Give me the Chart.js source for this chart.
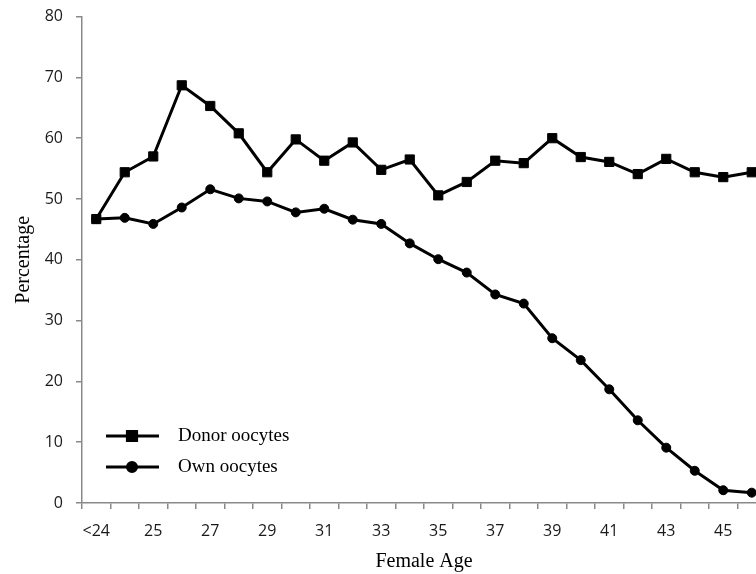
<!DOCTYPE html>
<html>
<head>
<meta charset="utf-8">
<script src="https://cdn.jsdelivr.net/npm/chart.js@4"></script>
<style>
html,body{margin:0;padding:0;overflow:hidden;background:#fff;width:756px;height:574px;}
#wrap{width:770px;height:580px;margin-top:-6px;}
</style>
</head>
<body>
<div id="wrap"><canvas id="c" width="770" height="580"></canvas></div>
<script>
const categories = ['<24','24','25','26','27','28','29','30','31','32','33','34','35','36','37','38','39','40','41','42','43','44','45','46'];
const donorOocytes = [46.7,54.4,57.0,68.7,65.3,60.8,54.4,59.8,56.3,59.3,54.8,56.5,50.6,52.8,56.3,55.9,60.0,56.9,56.1,54.1,56.6,54.4,53.6,54.4];
const ownOocytes = [46.7,46.9,45.9,48.6,51.6,50.1,49.6,47.8,48.4,46.6,45.9,42.7,40.1,37.9,34.3,32.8,27.1,23.5,18.7,13.6,9.1,5.3,2.1,1.7];
const seriesLabels = ['Donor oocytes','Own oocytes'];
const xTitle = 'Female Age';
const yTitle = 'Percentage';

const AXIS = '#898989';
const SERIF = '"Liberation Serif","DejaVu Serif",serif';
const SANS = '"Open Sans","Liberation Sans",sans-serif';
const SHIFT = 6; // canvas is moved up by this many px

const legendPlugin = {
  id: 'insideLegend',
  afterDraw(chart) {
    const ctx = chart.ctx;
    const rows = [436 + SHIFT, 467 + SHIFT];
    chart.data.datasets.forEach((ds, i) => {
      const y = rows[i];
      ctx.save();
      ctx.strokeStyle = '#000';
      ctx.lineWidth = 3;
      ctx.beginPath();
      ctx.moveTo(106, y);
      ctx.lineTo(159, y);
      ctx.stroke();
      ctx.fillStyle = '#000';
      Chart.helpers.drawPoint(ctx, {pointStyle: ds.pointStyle, radius: ds.pointRadius, borderWidth: 1}, 132, y);
      ctx.fill();
      ctx.font = '19px ' + SERIF;
      ctx.textBaseline = 'middle';
      ctx.textAlign = 'left';
      ctx.fillText(ds.label, 178, y);
      ctx.restore();
    });
  }
};

new Chart(document.getElementById('c'), {
  type: 'line',
  data: {
    labels: categories,
    datasets: [
      {label: seriesLabels[0], data: donorOocytes, borderColor: '#000', backgroundColor: '#000', borderWidth: 3,
       pointStyle: 'rect', pointRadius: 6.5, pointBorderWidth: 1, pointBackgroundColor: '#000', pointBorderColor: '#000', tension: 0},
      {label: seriesLabels[1], data: ownOocytes, borderColor: '#000', backgroundColor: '#000', borderWidth: 3,
       pointStyle: 'circle', pointRadius: 4.5, pointBorderWidth: 1, pointBackgroundColor: '#000', pointBorderColor: '#000', tension: 0}
    ]
  },
  options: {
    responsive: false,
    animation: false,
    devicePixelRatio: 1,
    layout: {autoPadding: false, padding: {top: 11, right: 4, left: 0, bottom: 0}},
    plugins: {legend: {display: false}, tooltip: {enabled: false}},
    scales: {
      x: {
        offset: true,
        border: {color: AXIS, width: 1.5},
        grid: {display: true, drawOnChartArea: false, drawTicks: true, tickLength: 6, offset: true, color: AXIS, lineWidth: 1.5},
        ticks: {autoSkip: false, maxRotation: 0, padding: 13, color: '#1a1a1a', font: {family: SANS, size: 16},
          callback: function(v, i) { return i % 2 === 0 ? this.getLabelForValue(v) : ''; }},
        title: {display: true, text: xTitle, color: '#000', font: {family: SERIF, size: 20}, padding: {top: 0, bottom: 0}},
        afterFit(s) { s.height = 71; }
      },
      y: {
        min: 0, max: 80,
        border: {color: AXIS, width: 1.5},
        grid: {display: true, drawOnChartArea: false, drawTicks: true, tickLength: 6, color: AXIS, lineWidth: 1.5},
        ticks: {stepSize: 10, padding: 13, color: '#1a1a1a', font: {family: SANS, size: 16}},
        title: {display: true, text: yTitle, color: '#000', font: {family: SERIF, size: 20}, padding: {top: 12, bottom: 0}},
        afterFit(s) { s.width = 82; }
      }
    }
  },
  plugins: [legendPlugin]
});
</script>
</body>
</html>
